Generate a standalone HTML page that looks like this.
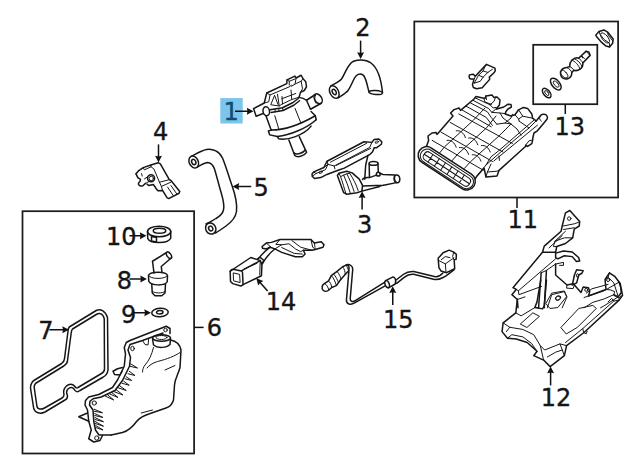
<!DOCTYPE html>
<html><head><meta charset="utf-8"><title>Parts diagram</title>
<style>
html,body{margin:0;padding:0;background:#fff;}
svg{display:block}
text{font-family:"DejaVu Sans","Liberation Sans",sans-serif;font-size:24px;fill:#151515;stroke:#151515;stroke-width:0.35}
.l path,.l ellipse,.l circle,.l line,.l polyline,.l polygon,.l rect{fill:none;stroke:#161616;stroke-width:1.5;stroke-linejoin:round;stroke-linecap:round;vector-effect:non-scaling-stroke}
.l .t{stroke-width:1.0}
.l .w{fill:#fff}
.l .k{fill:#222}
.b{fill:none;stroke:#1c1c1c;stroke-width:1.75}
.a line{stroke:#111;stroke-width:1.5}
.a polygon{fill:#111;stroke:none}
</style></head><body>
<svg width="640" height="471" viewBox="0 0 640 471">
<rect width="640" height="471" fill="#fff"/>
<g id="labels">
<rect x="220.300" y="98.100" width="22.400" height="25.400" fill="#7cc5ed"/>
<text x="223.600" y="120" style="fill:#0f4d6e;stroke:#0f4d6e">1</text>
<text x="355.300" y="35.600">2</text>
<text x="356.900" y="232.500">3</text>
<text x="152.900" y="139.750">4</text>
<text x="253.500" y="195.600">5</text>
<text x="206.800" y="335.900">6</text>
<text x="38.250" y="338.500">7</text>
<text x="116.750" y="288.500">8</text>
<text x="121" y="322.750">9</text>
<text x="106.100" y="244.750">10</text>
<text x="507.400" y="227.750">11</text>
<text x="540.800" y="405.800">12</text>
<text x="554.600" y="134.900">13</text>
<text x="265.700" y="310.400">14</text>
<text x="383" y="327.750">15</text>
</g>
<g id="boxes">
<rect class="b" x="22.500" y="211.200" width="171.600" height="242.300"/>
<rect class="b" x="414.300" y="21.500" width="203.800" height="176"/>
<rect class="b" x="533.200" y="44.800" width="64.100" height="59.400"/>
</g>
<g class="l" id="p1u" transform="translate(248,68) scale(0.125)">
<path d="M45,325 L130,280 L150,200 L310,125 L312,95 L375,65 L385,80 L425,58 L440,85 L462,110 L468,150 L450,180 L420,195 L408,235"/>
<path d="M45,325 L65,386 L116,366"/>
<ellipse class="w" cx="146" cy="346" rx="26" ry="36" transform="rotate(-10 146 346)"/>
<!-- connector -->
<path class="t" d="M385,80 L376,130 L346,146 M440,85 L425,106 L380,126 M425,106 L436,166 L420,195 M312,95 L330,106 L376,88 M330,106 L330,136"/>
<!-- block -->
<path class="t" d="M150,200 L176,216 L336,148 L346,136 M176,216 L166,270 L130,280"/>
<path class="t" d="M212,220 L182,294 L250,304 L236,210 M214,222 L240,292"/>
<path class="t" d="M250,304 L270,290 L350,252 L402,236 M272,228 L276,288 M270,246 L382,204 M350,252 L344,176"/>
<!-- rim -->
<path d="M176,334 L276,318 L360,276 L402,244 M184,356 L280,340 L366,298 L412,262"/>
<path class="t" d="M216,330 L218,350 M246,324 L248,346 M276,318 L280,340"/>
<!-- port -->
<path d="M408,235 C430,238 452,246 468,258 L536,214 M500,330 L586,282"/>
<ellipse cx="561" cy="246" rx="28" ry="43" transform="rotate(-32 561 246)"/>
<path class="t" d="M542,216 C530,234 530,262 544,282"/>
<!-- cylinder -->
<path d="M468,258 L500,330"/>
</g>
<g class="l" id="p1l" transform="translate(245,100) scale(0.140625)">
<path d="M150,116 L186,214"/>
<path d="M470,82 L500,112 L506,140"/>
<path class="t" d="M212,112 L242,212 M356,60 L396,160"/>
<!-- flange -->
<path d="M186,214 L166,220 L176,248 L230,260 C320,250 440,200 506,140"/>
<path d="M186,214 C280,214 400,170 500,112"/>
<path d="M230,260 L240,276 C300,290 420,250 470,186"/>
<!-- bottom tube -->
<path d="M312,284 L354,394 C372,412 420,400 438,372 L386,260"/>
<path d="M348,376 C368,392 412,380 430,354"/>
</g>
<g class="a"><line x1="235.00" y1="111.25" x2="249.50" y2="111.25"/><polygon points="253.50,111.25 246.80,107.80 247.50,111.25 246.80,114.70"/></g>
<g class="l" id="p2" transform="translate(320,0) scale(0.25)">
<path d="M43,344 C60,334 76,328 86,316 C98,300 104,272 126,250 C140,238 180,234 204,252 C236,276 246,330 250,370"/>
<path d="M72,392 C90,380 104,372 112,362 C126,344 134,312 146,302 C154,294 168,292 176,304 C186,320 190,346 196,368"/>
<ellipse class="w" cx="57" cy="368" rx="17" ry="27" transform="rotate(-28 57 368)"/>
<ellipse cx="57" cy="368" rx="7" ry="12" transform="rotate(-28 57 368)"/>
<ellipse cx="223" cy="370" rx="27" ry="8" transform="rotate(4 223 370)"/>
</g>
<g class="a"><line x1="360.60" y1="40.60" x2="360.60" y2="55.00"/><polygon points="360.60,59.00 364.05,52.30 360.60,53.00 357.15,52.30"/></g>
<g class="l" id="p3" transform="translate(305,132) scale(0.15723)">
<!-- top plate -->
<path d="M45,266 L56,254 L120,226 L140,186 L375,62 L425,66 L440,48 L470,44 L488,62 L486,78 L456,100 L440,100 L430,126 L414,142 L250,230 L215,242 L160,262 L140,270 L100,290 L60,296 L46,282 Z"/>
<path class="t" d="M140,186 L146,206 L186,216 L190,234 M186,216 L412,98 L425,66 M146,206 L120,226 M162,192 L392,72 M200,212 L418,104 M56,254 L70,264 L130,240 L146,206 M46,282 L70,264"/>
<ellipse class="t" cx="100" cy="256" rx="12" ry="6" transform="rotate(-22 100 256)"/>
<ellipse class="t" cx="457" cy="64" rx="12" ry="6" transform="rotate(-22 457 64)"/>
<!-- lower bracket -->
<path d="M206,276 L216,262 L266,250 L300,260 L345,300 L366,340 L362,376 L330,386 L266,396 L246,386 Z"/>
<path class="t" d="M226,284 C240,320 250,360 260,392 M246,274 C262,310 276,350 288,388 M266,266 C284,300 300,340 312,378 M284,262 C306,296 326,334 338,372 M216,262 L226,284 L246,274 L266,266 L284,262"/>
<!-- vertical edge -->
<path d="M400,150 L386,210 L380,300"/>
<!-- cylinder -->
<ellipse cx="436" cy="200" rx="28" ry="12"/>
<path d="M408,202 L410,290 M464,200 L466,256"/>
<!-- horizontal tube -->
<path d="M366,302 C372,292 392,288 410,290 L450,276 M476,262 L496,270 L572,274 M366,344 L500,338 L582,322 M362,376 L476,346 L500,338"/>
<ellipse cx="586" cy="298" rx="17" ry="25" transform="rotate(-8 586 298)"/>
<path class="t" d="M572,274 C562,284 562,312 574,322"/>
<circle cx="466" cy="268" r="12"/>
</g>
<g class="a"><line x1="362.10" y1="209.40" x2="362.10" y2="195.30"/><polygon points="362.10,191.30 358.65,198.00 362.10,197.30 365.55,198.00"/></g>
<g class="l" id="p4" transform="translate(125,150) scale(0.1104)">
<path d="M100,216 L125,186 L165,160 L235,136 L300,115 L320,126 L400,266 L420,280 L496,376 L490,392 L396,440 L380,432 L340,366 L300,370 L286,356 L270,330 L256,312 L216,322 L200,310"/>
<path d="M100,216 L116,250 L140,266 L136,286 C124,292 118,304 124,314 C132,328 152,330 164,322 L186,302"/>
<path class="t" d="M165,160 L176,180 L236,152 L235,136 M236,152 L262,172 L312,292 L330,330 L340,366 M312,292 L404,268 M330,330 L414,292 M386,336 L436,412 M416,322 L468,396 M150,214 L156,236"/>
<circle class="w" cx="236" cy="256" r="32"/>
<circle class="t" cx="238" cy="258" r="20"/>
<path class="t" d="M208,240 L176,262 M220,284 L190,300"/>
</g>
<g class="a"><line x1="158.50" y1="144.40" x2="158.50" y2="158.50"/><polygon points="158.50,162.50 161.95,155.80 158.50,156.50 155.05,155.80"/></g>
<g class="l" id="p5" transform="translate(120,118) scale(0.25)">
<path d="M284,154 C300,146 326,130 346,126 C372,122 398,134 410,160 C424,194 436,236 448,270 C460,304 470,340 466,374 C462,400 444,418 424,432 C410,442 396,452 382,460"/>
<path d="M306,198 C320,190 336,180 350,178 C362,178 372,188 378,204 C386,230 394,262 402,290 C410,318 420,346 414,368 C410,384 398,394 384,402 C372,410 356,418 344,424"/>
<ellipse class="w" cx="295" cy="176" rx="18" ry="25" transform="rotate(-25 295 176)"/>
<ellipse cx="295" cy="176" rx="8" ry="11" transform="rotate(-25 295 176)"/>
<ellipse class="w" cx="363" cy="442" rx="20" ry="23" transform="rotate(-30 363 442)"/>
<ellipse cx="363" cy="442" rx="8" ry="10" transform="rotate(-30 363 442)"/>
</g>
<g class="a"><line x1="251.25" y1="186.50" x2="236.50" y2="186.50"/><polygon points="232.50,186.50 239.20,189.95 238.50,186.50 239.20,183.05"/></g>
<g class="l" id="p10_8_9" transform="translate(60,205) scale(0.25)">
<!-- 10 ring -->
<path d="M350,106 L351,134 C360,156 434,156 443,132 L443,106"/>
<ellipse cx="396.500" cy="106" rx="46.500" ry="21"/>
<ellipse cx="398" cy="103" rx="25" ry="10"/>
<path d="M366,126 L366,144 L386,148 L386,130 Z"/>
<!-- 8 elbow -->
<path d="M370,225 L425,191 M405,246 L446,211 M370,225 L376,272 M405,246 L408,270"/>
<ellipse cx="436" cy="201" rx="8" ry="15" transform="rotate(-35 436 201)"/>
<path d="M354,282 C358,264 426,264 430,282 L429,307 C420,324 364,324 355,305 Z"/>
<path class="t" d="M354,282 C360,298 424,298 430,282"/>
<path d="M367,316 L369,352 L380,363 L407,363 L420,352 L422,316"/>
<path class="t" d="M370,346 C382,354 408,354 420,346"/>
<!-- 9 washer -->
<ellipse cx="400" cy="430" rx="33" ry="17" transform="rotate(-4 400 430)"/>
<ellipse cx="399" cy="429" rx="13" ry="7" transform="rotate(-4 399 429)"/>
</g>
<g class="a"><line x1="129.40" y1="235.75" x2="142.50" y2="235.75"/><polygon points="146.50,235.75 139.80,232.30 140.50,235.75 139.80,239.20"/><line x1="129.40" y1="279.00" x2="142.90" y2="279.00"/><polygon points="146.90,279.00 140.20,275.55 140.90,279.00 140.20,282.45"/><line x1="133.75" y1="312.75" x2="147.00" y2="312.75"/><polygon points="151.00,312.75 144.30,309.30 145.00,312.75 144.30,316.20"/></g>
<g class="l" id="p7" transform="translate(20,295) scale(0.25)">
<path d="M197,128 L305,62 C322,54 340,62 350,90 L352,300 C350,316 342,324 330,330 L240,382 C230,390 222,388 216,376 C210,368 200,368 192,376 C184,384 186,394 190,402 C190,412 186,418 180,420 L100,468 C80,478 60,470 55,455 L42,372 C42,356 50,344 62,338 L165,275 C174,268 178,262 178,255 L192,145 C192,138 194,132 197,128 Z"/>
<path d="M210,136 L305,78 C318,70 332,74 337,95 L338,295 C338,304 334,310 326,314 L232,370 C226,374 222,370 218,364 C210,354 196,354 186,364 C174,376 172,386 176,398 C176,406 172,410 168,412 L98,452 C84,460 70,456 68,447 L57,372 C56,362 60,354 68,350 L175,284 C184,278 190,270 190,262 L205,150 C206,144 207,139 210,136 Z"/>
</g>
<g class="a"><line x1="49.40" y1="329.75" x2="65.00" y2="329.75"/><polygon points="69.00,329.75 62.30,326.30 63.00,329.75 62.30,333.20"/><line x1="194" y1="327.4" x2="203.6" y2="327.4"/></g>
<g class="l" id="ptank" transform="translate(70,325) scale(0.25)">
<!-- flange outer -->
<path d="M225,70 L240,62 L385,5 L400,14 L400,34 M225,70 L217,90 L222,115 L217,165 L190,220 L170,250 L115,278 L75,288 L62,302 L60,320 L70,340 L75,385 L85,420 L75,455 L95,468 L120,462 L130,442"/>
<!-- flange inner -->
<path d="M240,78 L290,62 L372,32 M240,78 L232,100 L242,130 L238,165 L210,222 L180,262 L125,288 L92,295 L80,305 L78,320 L92,340 L95,385 L102,420 L116,440 L165,440"/>
<ellipse class="t" cx="250" cy="94" rx="7" ry="9"/><circle class="t" cx="382" cy="20" r="7"/><circle class="t" cx="97" cy="312" r="8.500"/><circle class="t" cx="107" cy="452" r="8.500"/>
<!-- tabs -->
<path d="M210,170 L190,175 L172,185 L178,198 L200,200 L208,186 M70,352 L35,367 L75,385"/>
<path class="t" d="M290,62 L300,78 L312,80 L315,55"/>
<!-- neck -->
<ellipse cx="366" cy="52" rx="36" ry="13"/>
<ellipse class="t" cx="366" cy="50" rx="22" ry="8"/>
<path d="M330,54 L334,80 C350,94 386,92 400,78 L402,54"/>
<!-- body -->
<path d="M402,60 C424,64 440,80 444,100 L440,170 C432,200 420,214 418,240 L414,300 C408,320 398,328 384,332 L318,355 C296,362 282,368 268,384 C256,400 236,424 210,430 L165,440"/>
<path class="t" d="M334,90 C326,120 318,140 300,160 C294,168 290,178 290,188 M440,110 C420,124 390,136 350,146 C330,152 316,162 308,172 M380,180 L420,162 M285,352 L330,340"/>
<!-- fins -->
<path class="t" d="M242,155 L270,172 L239,165 M237,185 L260,202 L232,195 M225,207 L247,222 L220,215 M215,225 L237,241 L208,233 M197,242 L225,262 L189,250 M182,257 L212,280 L172,265 M167,270 L192,290 L159,276 M150,279 L175,300 L142,285"/>
<path class="t" d="M97,337 L130,351 L97,345 M99,354 L132,370 L99,362 M100,370 L134,387 L100,378 M101,386 L134,405 L101,394 M103,402 L132,420 L103,410"/>
</g>
<g class="l" id="p11clip" transform="translate(455,55) scale(0.09375)">
<path d="M150,230 C150,216 160,208 172,208 L196,206 L216,226 L336,100 L426,140 L430,166 L416,190 L366,236 L370,260 L290,350 L230,360 L196,346 L186,316 L200,270 L196,256 L168,256 C156,254 150,244 150,230 Z"/>
<path class="t" d="M216,226 L206,258 M322,116 L300,170 L250,216 L206,300 M300,170 L350,186 M250,216 L300,236 M400,152 L350,186 L300,236 L270,280 L206,300"/>
</g>
<g class="l" id="p11" transform="translate(417,88) scale(0.2)">
<!-- silhouette upper -->
<path d="M48,290 L58,262 L55,240 L75,225 L95,222 L100,232 L180,140 L168,125 L185,108 L210,100 L218,112 L285,55 L295,42 L340,52 L345,40 L375,35 L385,48 L400,45 L415,60 L412,85 L395,106 L434,95 L455,81 L470,83 L472,95 L455,105 L444,119 L441,130 L470,140 L490,134 L508,109 L532,97 L553,102 L574,130 L578,151 L596,165 L616,140 C622,130 644,128 650,140 C654,148 652,152 650,156 L616,197 L602,214 L585,225 L580,245 L578,262 L574,278 L553,292 L543,286 L545,290 L410,412 L400,440 L345,445 L335,400 L300,440 L285,462 L250,472"/>
<!-- longitudinal -->
<path class="t" d="M111,327 L140,292 L281,162 L340,100 M174,365 L204,330 L348,199 L395,140 M237,402 L268,368 L415,235 L470,180 M300,440 L345,385 L470,275 L560,200 L600,160"/>
<!-- transverse -->
<path class="t" d="M76,262 L331,411 M119,220 L378,368 M166,172 L430,320 M209,130 L477,277"/>
<!-- arches -->
<path class="t" d="M150,262 C170,258 188,272 196,296 M212,298 C232,294 250,308 258,332 M276,334 C296,330 312,344 320,366 M196,214 C216,210 234,224 242,248 M258,250 C278,246 296,260 304,284 M322,288 C342,284 358,298 366,320"/>
<path class="t" d="M290,49 L365,84 L381,100 L396,97 M281,62 L359,103 L374,122 L415,125 L443,128 M268,75 L352,119 L371,147 L399,181 M246,91 L346,147 L377,187 M224,109 L371,194"/>
<path class="t" d="M334,53 L340,70 L372,82 M343,39 L348,58 M393,44 L386,66 L365,84 M374,122 L390,109 M415,125 L430,150 L470,180 M399,181 L440,175 L470,180 L500,205 L520,236 M477,131 L470,150 L440,175"/>
<path class="t" d="M490,134 L508,155 L511,166 M508,155 L529,141 L578,151 M508,109 L529,141 M511,166 L560,200"/>
<!-- rail -->
<path class="t" d="M345,385 L370,344 L406,316 L588,158 L596,165 M384,365 L602,186 M410,340 L412,362 M345,445 L352,420 L370,380 M352,420 L400,416 L410,412"/>
<path class="t" d="M616,140 C610,150 612,160 622,166 M543,286 L560,264 L578,260"/>
</g>
<!-- front face stadium rings -->
<g class="l" id="p11face" transform="translate(446.7,168.3) rotate(33.2)">
<rect class="w" x="-32.500" y="-8.600" width="65" height="17.200" rx="8.600"/>
<rect class="t" x="-30" y="-6.500" width="61" height="13.800" rx="6.900"/>
<rect class="t" x="-26.500" y="-4" width="54" height="9" rx="3.500"/>
<path class="t" d="M-26.500,0.500 L27.500,0.500 M-19,-4 L-19,5 M-11.500,-4 L-11.500,5 M-4,-4 L-4,5 M3.500,-4 L3.500,5 M11,-4 L11,5 M18.500,-4 L18.500,5"/>
</g>
<g class="a"><line x1="517" y1="198" x2="517" y2="208"/></g>
<g class="l" id="p12a" transform="translate(490,205) scale(0.21875)">
<!-- top tab + left edge -->
<path d="M330,96 L345,36 L365,25 L410,75 L408,96 L385,110 L378,150 L345,176 L305,190 L300,216 L240,216 L248,188 L325,120 Z"/>
<circle class="t" cx="362" cy="62" r="8"/>
<path class="t" d="M335,96 L385,86 L408,78 M336,112 L385,104 M345,120 L296,166 L290,190 L305,190 M296,166 L340,150 L378,150 M270,196 L330,140"/>
<path d="M240,216 L105,378 L120,386 L100,410 L125,432 L128,470"/>
<path class="t" d="M300,246 L130,392 L120,386 M130,392 L132,410 L236,372 M125,432 L160,420"/>
<!-- hook -->
<path d="M300,240 L300,220 L336,210 L376,215 L405,240 L410,256 L395,258 L376,236 L340,232 L310,246 Z"/>
<path class="t" d="M300,270 L336,262 L336,276 L318,276"/>
<!-- notch -->
<path d="M300,270 L300,320 L352,366 L380,360 L386,366 L416,400 L426,375 L450,378 L456,396 L450,416 L530,386 L526,340 L546,310 L570,326 L596,360 L600,400 L586,420 L566,410"/>
<path class="t" d="M300,270 L256,300 L234,310 M352,366 L350,380 L380,382 L386,366 M546,310 L540,330 L566,356 L580,400 L586,420 M526,340 L540,330 M566,410 L570,396 L550,388 L530,386"/>
<circle class="t" cx="440" cy="388" r="7"/><circle class="t" cx="540" cy="343" r="7"/>
<!-- small tab -->
<path d="M396,296 L426,300 L420,312 L406,320 L396,356 L376,366 L386,320 Z"/>
<ellipse class="t" cx="400" cy="322" rx="5" ry="8" transform="rotate(15 400 322)"/>
<!-- thin arm -->
<path d="M234,310 L222,470 M258,300 L248,470"/>
<!-- lower region lines -->
<ellipse class="t" cx="312" cy="426" rx="12" ry="9" transform="rotate(-30 312 426)"/>
<path class="t" d="M262,470 L282,410 L340,396 L352,420 L330,470 M566,410 L520,430 L470,445 L430,470 M586,420 L520,462 L505,470"/>
</g>
<g class="l" id="p12b" transform="translate(490,280) scale(0.21875)">
<path d="M125,88 L118,150 L60,196 L55,236 L80,266 L120,270 L170,286 L215,326 L200,346 L245,366 L275,396 L340,346 L350,300 L430,240 L590,92 L606,70 L600,40 L590,10"/>
<path class="t" d="M60,196 L90,216 L150,226 L200,250 L230,300 L245,366 M75,236 L90,216 M80,266 L100,250 L150,260 L190,290 L215,326 M118,150 L142,164 L205,126"/>
<path class="t" d="M340,346 L320,292 L250,320 L230,300 M350,300 L320,292 M345,286 L424,222 L566,96 L590,92 M262,352 L300,330 L330,320 M424,222 L428,240 L440,246 L444,234"/>
<path class="t" d="M566,70 L590,84 L598,72 M540,100 L556,84 L566,96"/>
<!-- arm end -->
<path d="M222,127 L205,126 L215,100 L232,0 M248,118 L258,0 M205,126 L240,132 L248,118"/>
<!-- parallelogram + rect -->
<path class="t" d="M140,200 L196,150 L226,166 L170,216 Z"/>
<path class="t" d="M325,216 L406,130 L470,116 L486,130 L400,216 L350,246 Z"/>
<path class="t" d="M256,106 L282,60 L340,50 L350,76 L310,126 L276,130 Z"/>
<ellipse class="t" cx="310" cy="82" rx="12" ry="9" transform="rotate(-30 310 82)"/>
<path class="t" d="M440,60 L466,40 L540,20 M430,80 L520,50 L590,10"/>
</g>
<g class="a"><line x1="550.60" y1="385.40" x2="550.60" y2="370.50"/><polygon points="550.60,366.50 547.15,373.20 550.60,372.50 554.05,373.20"/></g>
<g class="l" id="p13" transform="translate(535,25) scale(0.140625)">
<!-- nut -->
<path d="M432,72 L455,46 L490,35 L516,50 L556,100 L552,130 L530,156 L505,150 L474,124 L440,86 Z"/>
<ellipse class="t" cx="498" cy="92" rx="20" ry="44" transform="rotate(-40 498 92)"/>
<path class="t" d="M455,46 L462,66 L492,104 L530,130 L530,156 M516,50 L520,72 L552,112"/>
<!-- valve core -->
<path class="w" d="M182,336 C186,318 204,304 226,302 L246,296 C246,280 250,262 262,250 C276,236 296,230 310,236 L364,186 L384,194 L392,216 L340,270 C342,288 334,304 320,314 C306,324 288,326 276,322 L262,338 C262,356 250,376 232,382 C214,388 194,380 186,364 C180,354 180,344 182,336 Z"/>
<ellipse class="t" cx="207" cy="349" rx="18" ry="34" transform="rotate(-40 207 349)"/>
<path class="t" d="M226,302 C244,310 260,326 262,338 M246,296 C260,300 274,312 276,322 M262,250 C284,256 312,286 320,314 M280,240 C302,248 326,272 334,296 M310,236 C322,244 336,258 340,270 M330,216 L352,240 M364,186 C370,196 378,206 392,216 M322,226 L334,222 L338,234"/>
<!-- rings -->
<ellipse cx="148" cy="420" rx="27" ry="50" transform="rotate(-40 148 420)"/>
<ellipse class="t" cx="150" cy="420" rx="13" ry="27" transform="rotate(-40 150 420)"/>
<ellipse cx="83" cy="484" rx="22" ry="40" transform="rotate(-40 83 484)"/>
<ellipse class="t" cx="84" cy="484" rx="10" ry="21" transform="rotate(-40 84 484)"/>
</g>
<g class="a"><line x1="565.300" y1="104" x2="565.300" y2="114"/></g>
<g class="l" id="p14" transform="translate(225,230) scale(0.171875)">
<!-- plug -->
<path d="M30,240 L150,160 L205,178 L215,200 L212,266 L105,318 L92,326 L45,312 L32,300 Z"/>
<path d="M30,240 C36,230 42,228 48,228 L95,238 C100,240 102,246 102,250 L105,318 M95,238 L205,178"/>
<path class="t" d="M50,250 L85,258 L88,306 L52,296 Z M112,226 L186,194 M205,178 L202,262"/>
<!-- cable -->
<path d="M192,170 C210,146 236,120 262,100 M218,196 C234,166 258,136 288,112 M190,168 L202,158 L226,176 L214,198"/>
<!-- upper shape -->
<path d="M216,96 L240,76 L270,72 L320,55 L500,55 L520,76 L560,68 L576,86 L570,100 L530,112 L506,118 L456,118 L466,140 L450,156 L410,156 L330,130 L290,110 L262,100 L240,110 L218,106 Z"/>
<path class="t" d="M290,110 L330,86 L372,80 L410,110 L440,126 L456,118 M330,102 L402,136 L450,140 M390,62 L440,100 L506,118 M500,55 L510,100 L530,112 M240,76 L266,98 M320,55 L296,84 L330,86 M520,76 L524,100"/>
</g>
<g class="a"><line x1="267.60" y1="291.00" x2="258.96" y2="281.29"/><polygon points="256.30,278.30 258.18,285.60 260.29,282.78 263.33,281.01"/></g>
<g class="l" id="p15a" transform="translate(315,240) scale(0.15723)">
<!-- wire -->
<path d="M200,158 C222,152 240,166 240,186 L224,372 C222,392 240,396 256,386 L442,270 M208,186 C214,188 216,196 215,204 L200,380 C198,410 228,414 252,400 L452,288"/>
<!-- sensor body -->
<path class="w" d="M46,300 C44,290 52,282 62,276 L86,260 L104,226 L140,200 L176,170 L198,160 C210,158 218,166 216,180 L214,196 L186,226 L160,256 L136,290 L106,302 L88,318 C78,328 62,330 52,320 C46,314 44,306 46,300 Z"/>
<path class="t" d="M62,276 C74,284 84,300 88,318 M86,260 C98,268 106,286 106,302 M104,226 C118,240 130,268 136,290 M118,216 C132,230 144,256 150,272 M140,200 C154,214 164,238 166,250 M176,170 C186,182 194,204 192,220 M198,160 C204,172 212,186 214,196"/>
<!-- grommet -->
<path class="w" d="M450,258 L496,235 C510,236 518,256 510,280 L468,304 Z"/>
<ellipse class="w" cx="459" cy="281" rx="13" ry="24" transform="rotate(-22 459 281)"/>
<!-- wire right -->

</g>
<g class="l" id="p15b" transform="translate(410,240) scale(0.1104)">
<path class="w" d="M255,166 L300,116 L355,92 L396,110 L420,130 L418,175 L400,180 L405,260 L330,296 L280,280 L262,250 Z"/>
<path class="t" d="M260,186 L320,216 L398,162 M320,216 L326,292 M284,178 L320,150 L362,160 M396,110 L386,150 L400,180"/>
</g>
<g class="l" id="p15w" transform="translate(380,240) scale(0.15723)">
<path d="M100,256 L150,218 C166,206 186,198 214,200 L346,232 C362,236 382,230 400,210 M106,276 L156,236 C170,224 190,216 214,218 L340,250 C356,254 376,252 398,240 L420,228 L470,190"/>
</g>
<g class="a"><line x1="392.75" y1="305.00" x2="392.75" y2="290.25"/><polygon points="392.75,286.25 389.30,292.95 392.75,292.25 396.20,292.95"/></g>
</svg>
</body></html>
